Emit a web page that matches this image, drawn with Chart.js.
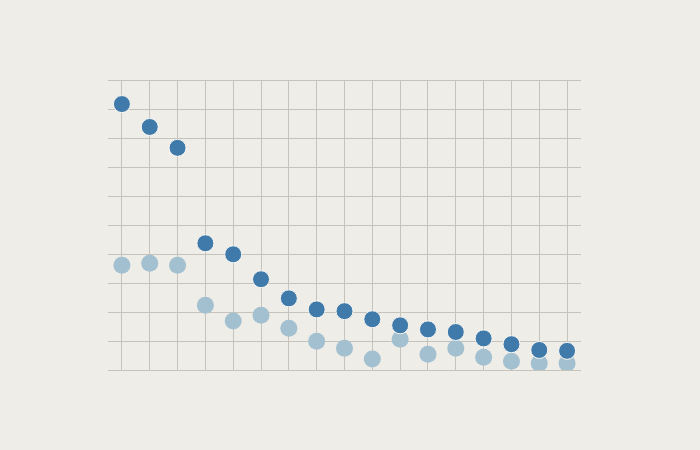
<!DOCTYPE html>
<html>
<head>
<meta charset="utf-8">
<script src="https://cdn.jsdelivr.net/npm/chart.js@4"></script>
<style>
  html, body { margin: 0; padding: 0; background: #efede8; }
  #wrap { width: 700px; height: 450px; }
</style>
</head>
<body>
<div id="wrap"><canvas id="chart" width="700" height="450"></canvas></div>
<script>
const categories = ["1","2","3","4","5","6","7","8","9","10","11","12","13","14","15","16","17"];
const darkValues  = [9.17, 8.38, 7.66, 4.37, 3.99, 3.13, 2.47, 2.09, 2.03, 1.75, 1.54, 1.40, 1.31, 1.09, 0.89, 0.69, 0.66];
const lightValues = [3.61, 3.68, 3.61, 2.23, 1.69, 1.89, 1.44, 0.99, 0.75, 0.38, 1.06, 0.54, 0.75, 0.44, 0.30, 0.23, 0.23];

const gridColor = "#c6c3bc";

new Chart(document.getElementById("chart").getContext("2d"), {
  type: "line",
  data: {
    labels: categories,
    datasets: [
      {
        label: "dark",
        data: darkValues,
        showLine: false,
        pointRadius: 8.5,
        pointBackgroundColor: "#3f7aab",
        pointBorderColor: "#f7f6f2",
        pointBorderWidth: 1,
        order: 0,
      },
      {
        label: "light",
        data: lightValues,
        showLine: false,
        pointRadius: 8.5,
        pointBackgroundColor: "#a2c0cf",
        pointBorderColor: "#a2c0cf",
        pointBorderWidth: 0,
        order: 1,
      },
    ],
  },
  options: {
    responsive: false,
    animation: false,
    layout: { padding: { left: 108, right: 119, top: 80, bottom: 80 } },
    plugins: { legend: { display: false }, tooltip: { enabled: false } },
    scales: {
      x: {
        type: "category",
        offset: true,
        ticks: { display: false },
        border: { display: false },
        grid: { color: gridColor, lineWidth: 1, drawTicks: false, offset: false },
      },
      y: {
        min: 0,
        max: 10,
        ticks: { display: false, stepSize: 1 },
        border: { display: false },
        grid: { color: gridColor, lineWidth: 1, drawTicks: false },
      },
    },
  },
});
</script>
</body>
</html>
